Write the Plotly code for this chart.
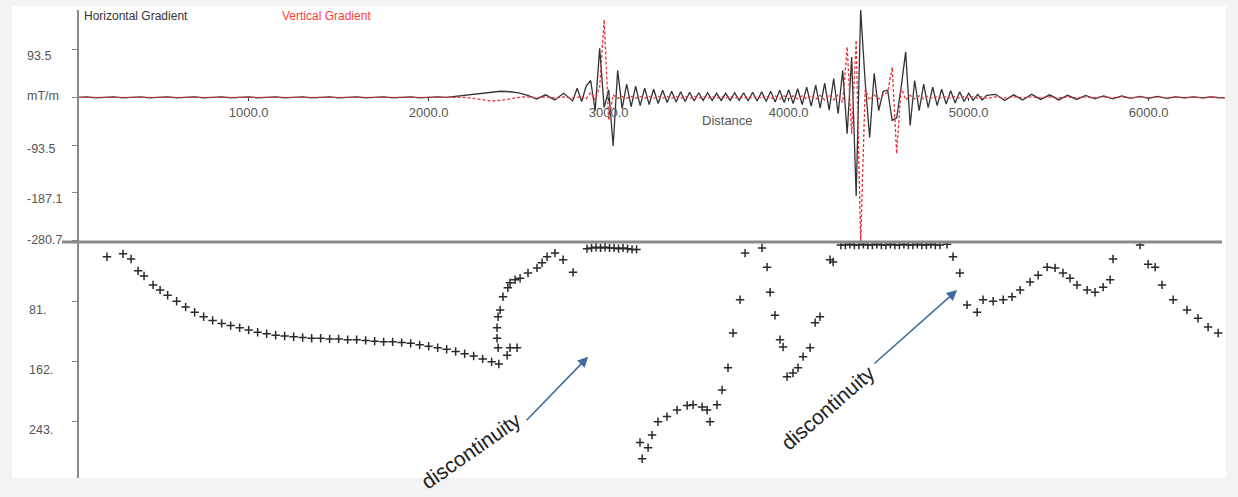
import plotly.graph_objects as go

# ---------------- top panel: gradients along profile ----------------
DIST = list(range(50, 2801, 50)) + list(range(2825, 5101, 25)) + list(range(5150, 6451, 50))

HG_SEG1 = [0, 1, -1, 0, 1, -1, 0, 1, -1, 0,
           1, -1, 0, 1, -1, 0, 1, -1, 0, 1,
           -1, 0, 1, -1, 0, 1, -1, 0, 1, -1,
           0, 1, -1, 0, 1, -1, 0, 1, -1, 0,
           1, 0, 2, 3, 5, 8, 10, 12, 11, 9,
           4, -3, 5, -5, 8, -7]
HG_SEG2 = [18, -8, 22, 33, -26, 96, -20, 15, -95, 53,
           -22, 26, -18, 22, -16, 18, -14, 16, -12, 14,
           -10, 12, -9, 11, -8, 10, -7, 9, -6, 9,
           -6, 8, -6, 8, -6, 9, -6, 9, -7, 10,
           -7, 11, -8, 12, -9, 14, -10, 15, -12, 17,
           -14, 20, -17, 24, -21, 28, -25, 37, -32, 53,
           -71, 79, -193, 171, 30, -79, 47, -26, 12, 14,
           -45, -40, 20, 89, -55, 33, -26, 26, -20, 20,
           -16, 16, -13, 13, -11, 11, -8, 8, -6, 6,
           -5, 4]
HG_SEG3 = [6, -6, 5, -5, 6, -4, 5, -5, 4, -4,
           4, -3, 3, -3, 3, -2, 2, -2, 2, -2,
           1, -1, 1, -1, 1, -1, 0]
HORIZ_GRAD = HG_SEG1 + HG_SEG2 + HG_SEG3

VG_SEG1 = [0] * 44 + [-2, -5, -7, -6, -3, 0, 1, -1, 1, -1, 1, -1]
VG_SEG2 = [0, 2, -3, 10, -5, 20, 152, -45, 5, -2,
           2, -2, 2, -2, 2, -2, 2, -2, 2, -2,
           2, -2, 2, -2, 2, -2, 2, -2, 2, -2,
           2, -2, 2, -2, 2, -2, 2, -2, 2, -2,
           2, -2, 3, -3, 3, -3, 3, -3, 3, -3,
           3, -3, 4, -4, 4, -5, 5, -5, 6, -10,
           99, -71, 112, -282, 15, -5, 5, -3, 5, 10,
           59, -110, 20, -5, 4, -3, 3, -3, 3, -2,
           2, -2, 2, -2, 2, -2, 2, -2, 2, -2,
           2, -2]
VG_SEG3 = [1, -1, 1, -1, 1, -1, 1, -1, 1, -1,
           1, -1, 1, -1, 1, -1, 1, -1, 1, -1,
           1, -1, 1, -1, 1, -1, 0]
VERT_GRAD = VG_SEG1 + VG_SEG2 + VG_SEG3

assert len(DIST) == len(HORIZ_GRAD) == len(VERT_GRAD), (len(DIST), len(HORIZ_GRAD), len(VERT_GRAD))

TOP_TICKS = [93.5, 0, -93.5, -187.1, -280.7]
TOP_LABELS = ["93.5", "mT/m", "-93.5", "-187.1", "-280.7"]
X_TICKS = [1000, 2000, 3000, 4000, 5000, 6000]
X_LABELS = ["1000.0", "2000.0", "3000.0", "4000.0", "5000.0", "6000.0"]

# ---------------- bottom panel: depth solutions ----------------
SOL_X = [213, 302, 347, 386, 419, 469, 508, 550, 600, 650, 700, 750, 800, 850, 900, 950,
         1000, 1050, 1100, 1150, 1200, 1250, 1300, 1350, 1400, 1450, 1500, 1550, 1600, 1650,
         1700, 1750, 1800, 1850, 1900, 1950, 2000, 2050, 2100, 2150, 2200, 2250, 2300, 2350, 2390,
         2436, 2452, 2491, 2386, 2380, 2380, 2386, 2397, 2413, 2440, 2452, 2480, 2508, 2552,
         2602, 2630, 2658, 2702, 2747, 2802,
         2880, 2905, 2930, 2955, 2980, 3005, 3030, 3055, 3080, 3105, 3130, 3155,
         3174, 3219, 3186, 3241, 3274, 3324, 3380, 3436, 3469, 3519, 3547, 3563, 3602, 3630,
         3663, 3691, 3730, 3758, 3852, 3880, 3897, 3924, 3952, 3969, 3991, 4024, 4052, 4080,
         4119, 4147, 4174, 4230, 4247,
         4290, 4315, 4340, 4365, 4390, 4415, 4440, 4465, 4490, 4515, 4540, 4565, 4590, 4615,
         4640, 4665, 4690, 4715, 4740, 4765, 4790, 4815, 4840,
         4880, 4913, 4951, 4991, 5047, 5080, 5136, 5192, 5241, 5286, 5341, 5386, 5436, 5480,
         5524, 5563, 5602, 5658, 5702, 5747, 5786, 5802, 5952, 5997, 6036, 6074, 6136, 6213,
         6274, 6330, 6386]
SOL_DEPTH = [20, 16, 23, 39, 46, 58, 65, 72, 80, 88, 95, 101, 106, 110, 113, 116,
             119, 122, 124, 126, 127, 128, 129, 130, 130, 131, 131, 132, 132, 133,
             134, 135, 135, 136, 137, 139, 141, 143, 145, 148, 151, 154, 158, 162, 165,
             153, 143, 143, 143, 130, 116, 101, 92, 74, 62, 55, 51, 49, 42,
             35, 28, 20, 15, 24, 41,
             9, 8, 7, 8, 7, 8, 8, 9, 8, 9, 10, 10,
             271, 278, 293, 261, 243, 236, 227, 221, 220, 223, 227, 243, 220, 200,
             170, 123, 78, 15, 8, 34, 68, 99, 132, 142, 182, 177, 170, 155,
             143, 109, 101, 24, 27,
             4, 4, 3, 4, 4, 3, 4, 4, 3, 4, 4, 3, 4, 4,
             3, 4, 4, 3, 4, 4, 3, 4, 4,
             3, 20, 42, 85, 95, 78, 80, 78, 74, 65, 54, 45, 34, 35,
             42, 49, 58, 65, 68, 61, 51, 23, 4, 30, 34, 58, 78, 92,
             103, 115, 123]
assert len(SOL_X) == len(SOL_DEPTH), (len(SOL_X), len(SOL_DEPTH))

BOT_TICKS = [81, 162, 243]
BOT_LABELS = ["81.", "162.", "243."]

# ---------------- layout geometry ----------------
W, H = 1238, 497
ML, MR, MT, MB = 78, 13, 10, 19
PW, PH = W - ML - MR, H - MT - MB
SPLIT = (H - MB - 242) / PH          # paper y of the panel boundary
TOP_RANGE = [-283, 171]
BOT_RANGE = [319, 0]
X_RANGE = [52, 6424]
zero_pos = SPLIT + (0 - TOP_RANGE[0]) / (TOP_RANGE[1] - TOP_RANGE[0]) * (1 - SPLIT)

def px_x(p):
    return (p - ML) / PW

def px_y(p):
    return (H - MB - p) / PH

FONT = "Arial, Liberation Sans, sans-serif"

fig = go.Figure()
fig.add_trace(go.Scatter(x=DIST, y=HORIZ_GRAD, mode="lines", xaxis="x", yaxis="y",
                         line=dict(color="#333333", width=1.3), name="Horizontal Gradient"))
fig.add_trace(go.Scatter(x=DIST, y=VERT_GRAD, mode="lines", xaxis="x", yaxis="y",
                         line=dict(color="#e8343c", width=1.3, dash="3px,2px"), name="Vertical Gradient"))
fig.add_trace(go.Scatter(x=SOL_X, y=SOL_DEPTH, mode="markers", xaxis="x2", yaxis="y2",
                         marker=dict(symbol="cross-thin", size=6, color="#333",
                                     line=dict(color="#2a2a2a", width=1.5)), name="solutions"))

annotations = []
for v, t, s in zip(TOP_TICKS, TOP_LABELS, [-6, 1, -4, -6, 1]):
    annotations.append(dict(x=px_x(25), xref="paper", y=v, yref="y", text=t, showarrow=False,
                            xanchor="left", yanchor="middle", yshift=s,
                            font=dict(family=FONT, size=12.5, color="#555")))
for v, t in zip(BOT_TICKS, BOT_LABELS):
    annotations.append(dict(x=px_x(27), xref="paper", y=v, yref="y2", text=t, showarrow=False,
                            xanchor="left", yanchor="middle", yshift=-8,
                            font=dict(family=FONT, size=12.5, color="#555")))
annotations += [
    dict(x=px_x(82), xref="paper", y=px_y(16), yref="paper", text="Horizontal Gradient",
         showarrow=False, xanchor="left", yanchor="middle",
         font=dict(family=FONT, size=12, color="#333")),
    dict(x=px_x(280), xref="paper", y=px_y(16), yref="paper", text="Vertical Gradient",
         showarrow=False, xanchor="left", yanchor="middle",
         font=dict(family=FONT, size=12, color="#ff3b3b")),
    dict(x=px_x(727), xref="paper", y=px_y(120), yref="paper", text="Distance",
         showarrow=False, xanchor="center", yanchor="middle",
         font=dict(family=FONT, size=13, color="#555")),
    dict(x=2886, y=155, xref="x2", yref="y2", ax=2536, ay=243, axref="x2", ayref="y2",
         text="", showarrow=True, arrowhead=2, arrowsize=1.3, arrowwidth=1.6, arrowcolor="#3d6d9e"),
    dict(x=4936, y=65, xref="x2", yref="y2", ax=4468, ay=166, axref="x2", ayref="y2",
         text="", showarrow=True, arrowhead=2, arrowsize=1.3, arrowwidth=1.6, arrowcolor="#3d6d9e"),
    dict(x=2236, y=282, xref="x2", yref="y2", text="discontinuity", showarrow=False,
         textangle=-35, xanchor="center", yanchor="middle",
         font=dict(family=FONT, size=21, color="#222")),
    dict(x=4219, y=224, xref="x2", yref="y2", text="discontinuity", showarrow=False,
         textangle=-41, xanchor="center", yanchor="middle",
         font=dict(family=FONT, size=21, color="#222")),
]

shapes = [
    dict(type="rect", xref="paper", yref="paper", x0=px_x(12), x1=px_x(1226), y0=0, y1=px_y(6),
         fillcolor="white", line=dict(width=0), layer="below"),
    dict(type="line", xref="paper", yref="paper", x0=px_x(62), x1=px_x(1222), y0=SPLIT, y1=SPLIT,
         line=dict(color="#8a8a8a", width=3), layer="above"),
]

fig.update_layout(
    width=W, height=H,
    margin=dict(l=ML, r=MR, t=MT, b=MB, autoexpand=False),
    paper_bgcolor="#f3f3f3", plot_bgcolor="white",
    showlegend=False, hovermode=False,
    xaxis=dict(domain=[0, 1], range=X_RANGE, anchor="free", position=zero_pos,
               tickvals=X_TICKS, ticktext=X_LABELS, ticks="outside", ticklen=3,
               tickcolor="#333", showline=False, showgrid=False, zeroline=False,
               automargin=False,
               tickfont=dict(family=FONT, size=13, color="#555")),
    yaxis=dict(domain=[SPLIT, 1], range=TOP_RANGE, anchor="free", position=0,
               tickvals=TOP_TICKS, showticklabels=False, ticks="outside", ticklen=5,
               tickcolor="#888", showline=True, linecolor="#888", linewidth=2,
               showgrid=False, zeroline=False, automargin=False),
    xaxis2=dict(domain=[0, 1], range=X_RANGE, anchor="y2", visible=False, matches="x"),
    yaxis2=dict(domain=[0, SPLIT], range=BOT_RANGE, anchor="free", position=0,
                tickvals=BOT_TICKS, showticklabels=False, ticks="outside", ticklen=5,
                tickcolor="#888", showline=True, linecolor="#888", linewidth=2,
                showgrid=False, zeroline=False, automargin=False),
    annotations=annotations,
    shapes=shapes,
)

fig.write_html("out.html", config={"displayModeBar": False},
               post_script="document.body.style.margin='0px';document.body.style.overflow='hidden';")
